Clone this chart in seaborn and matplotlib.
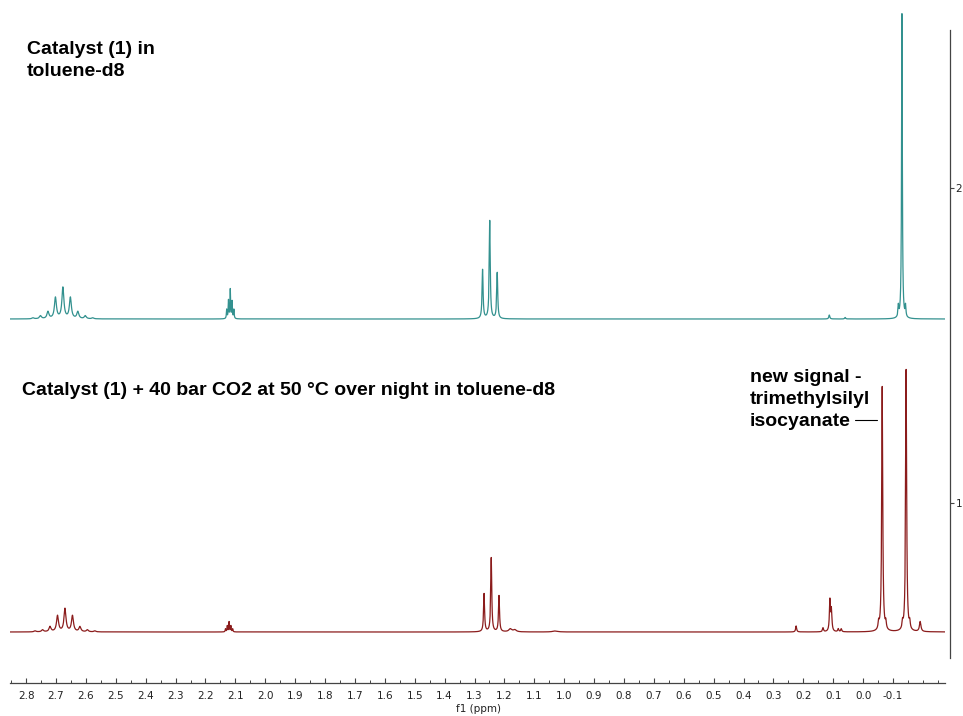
import numpy as np
import pandas as pd
import matplotlib
matplotlib.use("Agg")
import matplotlib.pyplot as plt
from matplotlib.lines import Line2D
from matplotlib.ticker import MultipleLocator
import seaborn as sns

# ---------------- data ----------------
# top trace: Catalyst (1) in toluene-d8 -- peak positions (ppm), heights, half widths (ppm)
top_ppm = [2.777, 2.752, 2.727, 2.702, 2.677, 2.652, 2.627, 2.602, 2.577,
           2.129, 2.123, 2.117, 2.111, 2.105,
           1.273, 1.249, 1.224,
           0.113, 0.060,
           -0.118, -0.130, -0.142]
top_height = [1, 3, 7, 21, 31, 21, 7, 3, 1,
              9, 18, 29, 17, 9,
              49, 98, 46,
              4, 1.5,
              11, 305, 11]
top_hw = [0.004] * 9 + [0.0012] * 5 + [0.002] * 3 + [0.002, 0.002] + [0.0015, 0.0015, 0.0015]

# bottom trace: + 40 bar CO2 at 50 °C
bot_ppm = [2.770, 2.745, 2.720, 2.695, 2.670, 2.645, 2.620, 2.595, 2.570,
           2.133, 2.127, 2.121, 2.115, 2.109,
           1.268, 1.244, 1.218, 1.180, 1.165, 1.030,
           0.224, 0.134, 0.111, 0.106, 0.083, 0.073,
           -0.052, -0.064, -0.076,
           -0.132, -0.144, -0.156,
           -0.191]
bot_height = [1, 2, 5, 16, 23, 16, 5, 2, 1,
              3, 6, 10, 6, 3,
              38, 74, 36, 3, 2, 1,
              6, 4, 31, 21, 3, 3,
              7, 245, 7,
              7, 262, 7,
              10]
bot_hw = ([0.004] * 9 + [0.0012] * 5 + [0.002] * 3 + [0.006, 0.006, 0.01]
          + [0.002] * 6 + [0.002] * 3 + [0.002] * 3 + [0.003])

x_ticks = [2.8, 2.7, 2.6, 2.5, 2.4, 2.3, 2.2, 2.1, 2.0, 1.9, 1.8, 1.7, 1.6, 1.5,
           1.4, 1.3, 1.2, 1.1, 1.0, 0.9, 0.8, 0.7, 0.6, 0.5, 0.4, 0.3, 0.2, 0.1,
           0.0, -0.1]
trace_ticks = [1, 2]

top_label = ["Catalyst (1) in", "toluene-d8"]
bot_label = "Catalyst (1) + 40 bar CO2 at 50 °C over night in toluene-d8"
note_lines = ["new signal -", "trimethylsilyl", "isocyanate"]

TOP_COLOR = "#33918f"
BOT_COLOR = "#8b1c1c"

# ---------------- build spectra (Lorentzian line shapes) ----------------
W, H = 963, 716
xgrid = np.linspace(-0.28, 2.86, 31401)
xgrid = np.unique(np.concatenate([xgrid, top_ppm, bot_ppm]))


def spectrum(ppm, height, hw):
    y = np.zeros_like(xgrid)
    for p, h, w in zip(ppm, height, hw):
        y += h * w ** 2 / ((xgrid - p) ** 2 + w ** 2)
    return y


TOP_OFFSET = 683 - 319
BOT_OFFSET = 683 - 632
df = pd.concat([
    pd.DataFrame({"ppm": xgrid, "I": spectrum(top_ppm, top_height, top_hw) + TOP_OFFSET, "trace": "top"}),
    pd.DataFrame({"ppm": xgrid, "I": spectrum(bot_ppm, bot_height, bot_hw) + BOT_OFFSET, "trace": "bottom"}),
])

# ---------------- figure ----------------
sns.set_theme(style="white")
plt.rcParams["font.family"] = ["DejaVu Sans"]
fig = plt.figure(figsize=(W / 100, H / 100), dpi=100)
fig.patch.set_facecolor("white")

ax = fig.add_axes([10 / W, (H - 683) / H, 935 / W, 683 / H])
ax.set_facecolor("none")
sns.lineplot(data=df[df.trace == "top"], x="ppm", y="I", ax=ax, color=TOP_COLOR,
             lw=0.9, estimator=None, sort=False)
sns.lineplot(data=df[df.trace == "bottom"], x="ppm", y="I", ax=ax, color=BOT_COLOR,
             lw=0.9, estimator=None, sort=False)
ax.set_xlim(2.854, -0.274)
ax.set_ylim(0, 683)
for s in ["top", "left", "right"]:
    ax.spines[s].set_visible(False)
ax.spines["bottom"].set_color("#444444")
ax.spines["bottom"].set_linewidth(0.9)
ax.set_yticks([])
ax.set_xticks(x_ticks)
ax.set_xticklabels([f"{t:.1f}" for t in x_ticks])
ax.xaxis.set_minor_locator(MultipleLocator(0.05))
ax.tick_params(axis="x", which="major", direction="in", length=3.5, width=0.8,
               color="#444444", labelsize=7.5, labelcolor="#222222", pad=5.5, bottom=True)
ax.tick_params(axis="x", which="minor", direction="in", length=2, width=0.7,
               color="#444444", bottom=True)
ax.set_xlabel("")
ax.set_ylabel("")
fig.text(478 / W, 1 - 709 / H, "f1 (ppm)", ha="center", va="center", fontsize=7.5,
         color="#222222")

# right trace axis
axr = fig.add_axes([949 / W, (H - 658) / H, 1 / W, (658 - 30) / H])
axr.set_facecolor("none")
for s in ["top", "left", "bottom"]:
    axr.spines[s].set_visible(False)
axr.spines["right"].set_color("#444444")
axr.spines["right"].set_linewidth(0.9)
axr.set_xticks([])
axr.set_ylim(0.508, 2.502)
axr.yaxis.tick_right()
axr.set_yticks(trace_ticks)
axr.set_yticklabels([str(t) for t in trace_ticks])
axr.tick_params(axis="y", direction="out", length=3, width=0.8, color="#444444",
                labelsize=7.5, labelcolor="#222222", pad=1, right=True, left=False)

# texts
tf = dict(fontsize=14, fontweight="bold", family=["Liberation Sans", "DejaVu Sans"],
          color="black", va="baseline", ha="left")
fig.text(27 / W, 1 - 54 / H, top_label[0], **tf)
fig.text(27 / W, 1 - 76 / H, top_label[1], **tf)
fig.text(22 / W, 1 - 395 / H, bot_label, **tf)
for i, line in enumerate(note_lines):
    fig.text(750 / W, 1 - (382 + 22 * i) / H, line, **tf)
fig.add_artist(Line2D([855 / W, 877 / W], [1 - 420 / H, 1 - 420 / H],
                      transform=fig.transFigure, color="black", lw=0.8))

fig.savefig("out.png", dpi=100, facecolor="white")
